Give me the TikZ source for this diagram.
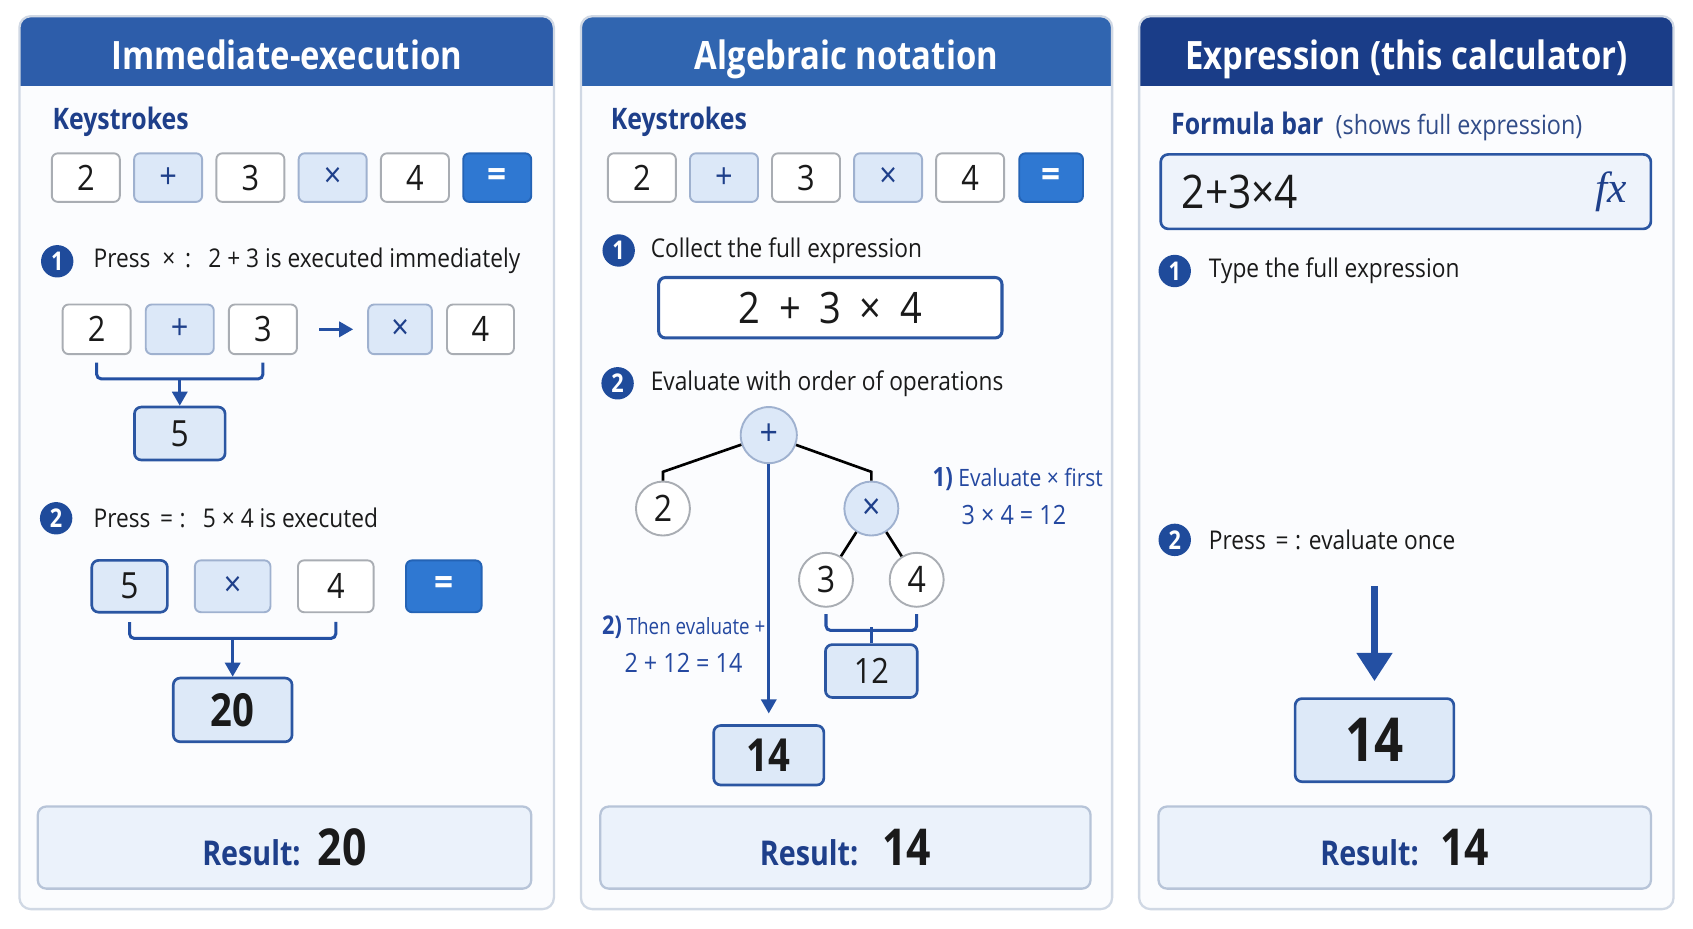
\documentclass[tikz,border=0pt]{standalone}
\usepackage{fontspec}
\setmainfont{Open Sans}[FakeStretch=0.88]
\newfontfamily\condfont{Open Sans}[FakeStretch=0.84]
\newfontfamily\fxfont{Liberation Serif}
\usetikzlibrary{arrows.meta,positioning}

\definecolor{hdrA}{HTML}{2D5DAA}
\definecolor{hdrB}{HTML}{3065B0}
\definecolor{hdrC}{HTML}{1A3D88}
\definecolor{panelbg}{HTML}{FBFCFE}
\definecolor{panelline}{HTML}{D0D8E4}
\definecolor{keyline}{HTML}{A9ADB3}
\definecolor{opfill}{HTML}{DCE8F8}
\definecolor{opline}{HTML}{9FB1CF}
\definecolor{eqfill}{HTML}{2F78D2}
\definecolor{eqline}{HTML}{2463B5}
\definecolor{badgec}{HTML}{1F4B9B}
\definecolor{navy}{HTML}{1E3F8A}
\definecolor{ink}{HTML}{1A1A1A}
\definecolor{resfill}{HTML}{EBF2FB}
\definecolor{resline}{HTML}{B7C4D8}
\definecolor{midfill}{HTML}{DDE9F8}
\definecolor{midline}{HTML}{2B56A2}
\definecolor{notec}{HTML}{2448A0}
\definecolor{arrowc}{HTML}{2450A3}
\definecolor{formfill}{HTML}{EEF3FB}

\tikzset{
  hdrtext/.style={anchor=base, inner sep=0pt, text=white, font=\condfont\fontsize{10.3}{12}\selectfont\bfseries},
  keyhead/.style={anchor=west, inner sep=0pt, text=navy, font=\condfont\fontsize{7.8}{9}\selectfont\bfseries},
  keycap/.style={rounded corners=1.6pt, line width=0.5pt, minimum width=6.3mm, minimum height=4.5mm, inner sep=0pt, text=ink, font=\fontsize{9.2}{11}\selectfont},
  numkey/.style={keycap, draw=keyline, fill=white},
  opkey/.style={keycap, draw=opline, fill=opfill, text=navy},
  eqkey/.style={keycap, draw=eqline, fill=eqfill, text=white, font=\fontsize{10}{12}\selectfont\bfseries},
  badge/.style={circle, fill=badgec, text=white, inner sep=0pt, minimum size=3mm, font=\condfont\fontsize{6.8}{7}\selectfont\bfseries},
  steptext/.style={anchor=west, inner sep=0pt, text=ink, font=\fontsize{6.8}{8}\selectfont},
  midres/.style={draw=midline, fill=midfill, line width=0.7pt, rounded corners=1.8pt, inner sep=0pt, text=ink, font=\fontsize{9.5}{11}\selectfont},
  bigres/.style={midres, font=\condfont\fontsize{12}{14}\selectfont\bfseries},
  resbox/.style={draw=resline, fill=resfill, line width=0.6pt, rounded corners=2.2pt, minimum height=7.6mm, inner sep=0pt},
  brace/.style={draw=arrowc, line width=0.8pt, rounded corners=1.2pt},
  flowarrow/.style={draw=arrowc, line width=0.8pt, -{Triangle[length=1.3mm, width=1.4mm]}},
  numcirc/.style={circle, draw=keyline, fill=white, line width=0.5pt, minimum size=5mm, inner sep=0pt, text=ink, font=\fontsize{9.6}{11}\selectfont},
  opcirc/.style={numcirc, fill=opfill, draw=opline, text=navy},
  treeline/.style={draw=black, line width=0.7pt},
  annot/.style={inner sep=0pt, text=notec, font=\fontsize{6.3}{7}\selectfont},
}

\begin{document}
\begin{tikzpicture}[x=1mm, y=1mm]
\useasboundingbox (0,0) rectangle (156.8,86);
\fill[white] (0,0) rectangle (156.8,86);

% ---- three panels with their title bars ----
\foreach \xa/\xb/\hc/\ttl [count=\i] in {1.8/51.3/hdrA/{Immediate-execution},
    53.8/103.0/hdrB/{Algebraic notation}, 105.5/155.0/hdrC/{Expression (this calculator)}} {
  \begin{scope}
    \clip[rounded corners=3pt] (\xa,1.8) rectangle (\xb,84.5);
    \fill[panelbg] (\xa,1.8) rectangle (\xb,84.5);
    \fill[\hc] (\xa,78.0) rectangle (\xb,84.5);
  \end{scope}
  \draw[panelline, line width=0.6pt, rounded corners=3pt] (\xa,1.8) rectangle (\xb,84.5);
  \node[hdrtext] (ttl\i) at ({(\xa+\xb)/2},79.6) {\ttl};
}

% ---- Panel A: immediate execution ----
\node[keyhead] (ksA) at (4.8,74.7) {Keystrokes};
\foreach \k/\kf/\kd/\kt [count=\i] in {2/white/keyline/ink, +/opfill/opline/navy, 3/white/keyline/ink,
    ×/opfill/opline/navy, 4/white/keyline/ink} {
  \node[keycap, fill=\kf, draw=\kd, text=\kt] (ka\i) at ({7.95+7.62*(\i-1)},69.55) {\k};
}
\node[eqkey] (ka6) at (46.05,69.55) {=};

% step 1
\node[badge] (b1a) at (5.3,61.8) {1};
\node[steptext] (s1a) at (8.6,61.8) {Press\hspace{1.1mm}×\hspace{0.9mm}:\hspace{1.6mm}2 + 3 is executed immediately};
\node[numkey, minimum height=4.6mm] (r1) at (8.95,55.5) {2};
\node[opkey, minimum height=4.6mm] (r2) at (16.65,55.5) {+};
\node[numkey, minimum height=4.6mm] (r3) at (24.35,55.5) {3};
\node[opkey, minimum height=4.6mm, minimum width=5.9mm] (r4) at (37.05,55.5) {×};
\node[numkey, minimum height=4.6mm, minimum width=6.2mm] (r5) at (44.5,55.5) {4};
\draw[flowarrow, shorten <=2mm, shorten >=1.3mm] (r3) -- (r4);
\draw[brace] ([yshift=-0.7mm]r1.south) -- ++(0,-1.5) -| ([yshift=-0.7mm]r3.south);
\node[midres, minimum width=8.4mm, minimum height=4.9mm] (five) at (16.65,45.85) {5};
\draw[flowarrow] ([yshift=-2.2mm]r2.south) -- (five);

% step 2
\node[badge] (b2a) at (5.2,38.0) {2};
\node[steptext] (s2a) at (8.6,38.0) {Press\hspace{0.9mm}=\hspace{0.6mm}:\hspace{1.6mm}5 × 4 is executed};
\node[midres, minimum width=7mm, minimum height=4.8mm] (q1) at (12.0,31.7) {5};
\node[opkey, minimum width=7mm, minimum height=4.8mm] (q2) at (21.55,31.7) {×};
\node[numkey, minimum width=7mm, minimum height=4.8mm] (q3) at (31.1,31.7) {4};
\node[eqkey, minimum width=7mm, minimum height=4.8mm] (q4) at (41.1,31.7) {=};
\draw[brace] ([yshift=-0.8mm]q1.south) -- ++(0,-1.5) -| ([yshift=-0.8mm]q3.south);
\node[bigres, minimum width=11mm, minimum height=5.9mm] (twenty) at (21.55,20.25) {20};
\draw[flowarrow] ([yshift=-2.3mm]q2.south) -- (twenty);

% ---- Panel B: algebraic notation ----
\node[keyhead] (ksB) at (56.5,74.7) {Keystrokes};
\foreach \k/\kf/\kd/\kt [count=\i] in {2/white/keyline/ink, +/opfill/opline/navy, 3/white/keyline/ink,
    ×/opfill/opline/navy, 4/white/keyline/ink} {
  \node[keycap, fill=\kf, draw=\kd, text=\kt] (kb\i) at ({59.45+7.6*(\i-1)},69.55) {\k};
}
\node[eqkey, minimum width=5.9mm] (kb6) at (97.35,69.55) {=};

\node[badge] (b1b) at (57.3,62.8) {1};
\node[steptext] (s1b) at (60.2,62.8) {Collect the full expression};
\node[draw=midline, fill=white, line width=0.8pt, rounded corners=1.8pt, minimum width=31.8mm,
  minimum height=5.6mm, text=ink, font=\fontsize{11.4}{13}\selectfont] (expr) at (76.9,57.5)
  {2\hspace{0.8mm} + \hspace{0.8mm}3\hspace{0.8mm} × \hspace{0.8mm}4};

\node[badge] (b2b) at (57.2,50.5) {2};
\node[steptext] (s2b) at (60.2,50.5) {Evaluate with order of operations};

% expression tree
\node[opcirc, minimum size=5.2mm] (plus) at (71.2,45.7) {+};
\node[numcirc] (t2) at (61.4,38.9) {2};
\node[opcirc] (times) at (80.7,38.9) {×};
\node[numcirc] (t3) at (76.5,32.3) {3};
\node[numcirc] (t4) at (84.9,32.3) {4};
\coordinate (elbowL) at (61.4,42.3);
\coordinate (elbowR) at (80.7,42.3);
\draw[treeline] (plus) -- (elbowL) -- (t2);
\draw[treeline] (plus) -- (elbowR) -- (times);
\draw[treeline] (times) -- (t3);
\draw[treeline] (times) -- (t4);

\node[annot, anchor=west] (n1) at (86.3,41.6) {{\condfont\bfseries\fontsize{7}{8}\selectfont 1)} Evaluate × first};
\node[annot, font=\fontsize{7}{8}\selectfont] (n1b) at (93.9,38.3) {3 × 4 = 12};
\draw[brace] ([yshift=-0.6mm]t3.south) -- ++(0,-1.5) -| ([yshift=-0.6mm]t4.south);
\node[midres, minimum width=8.5mm, minimum height=4.9mm, font=\fontsize{9.2}{10}\selectfont] (twelve) at (80.7,23.85) {12};
\draw[brace] (twelve.north) -- ++(0,1.5);

\node[annot, anchor=west, font=\condfont\fontsize{5.9}{7}\selectfont] (n2) at (55.7,27.9) {{\bfseries\fontsize{6.8}{8}\selectfont 2)} Then evaluate +};
\node[annot, font=\fontsize{7}{8}\selectfont] (n2b) at (63.3,24.6) {2 + 12 = 14};
\node[bigres, minimum width=10.2mm, minimum height=5.5mm] (fourteenB) at (71.2,16.05) {14};
\draw[flowarrow, shorten >=1mm] (plus) -- (fourteenB);

% ---- Panel C: expression calculator ----
\node[keyhead] (fb) at (108.4,74.6) {Formula bar};
\node[anchor=base west, inner sep=0pt, text=navy!80!gray, font=\fontsize{7}{8}\selectfont] (fbnote)
  at ([xshift=1mm]fb.base east) {(shows full expression)};
\node[draw=midline, fill=formfill, line width=0.7pt, rounded corners=2pt, minimum width=45.4mm,
  minimum height=6.9mm] (fbar) at (130.2,68.25) {};
\node[anchor=west, inner sep=0pt, text=ink, font=\fontsize{12.2}{14}\selectfont] (ftext)
  at ([xshift=2mm]fbar.west) {2+3×4};
\node[anchor=east, inner sep=0pt, text=navy, font=\fxfont\itshape\fontsize{11.5}{12}\selectfont] (fx)
  at ([xshift=-2.3mm]fbar.east) {fx};

\node[badge] (b1c) at (108.8,60.9) {1};
\node[steptext] (s1c) at (111.9,60.9) {Type the full expression};
\node[badge] (b2c) at (108.8,36.0) {2};
\node[steptext] (s2c) at (111.9,36.0) {Press\hspace{0.9mm}=\hspace{0.6mm}: evaluate once};

\coordinate (arrtop) at (127.3,31.7);
\node[bigres, minimum width=14.7mm, minimum height=7.7mm, font=\condfont\fontsize{16}{18}\selectfont\bfseries] (fourteenC) at (127.3,17.45) {14};
\draw[arrowc, line width=1.6pt, shorten >=1.5mm, -{Triangle[length=2.6mm, width=3.2mm]}] (arrtop) -- (fourteenC);

% ---- result bars ----
\foreach \cx/\w/\v/\gap [count=\i] in {26.35/45.7/20/1.6, 78.3/45.4/14/2.2, 130.1/45.6/14/2.0} {
  \node[resbox, minimum width=\w mm] (res\i) at (\cx,7.5)
    {{\color{navy}\condfont\fontsize{9}{11}\selectfont\bfseries Result:}\hspace{\gap mm}{\condfont\fontsize{13.4}{15}\selectfont\bfseries\color{ink}\v}};
}

\end{tikzpicture}
\end{document}
